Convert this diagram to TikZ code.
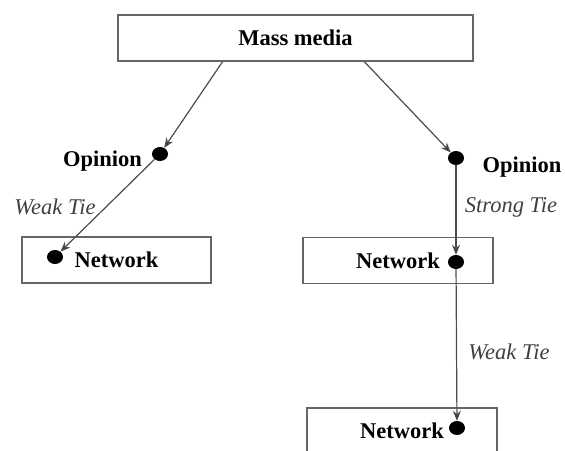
\documentclass[tikz,border=0pt]{standalone}
\usepackage{fontspec}
\setmainfont{Liberation Serif}
\usetikzlibrary{shapes.geometric,arrows.meta}
\begin{document}
\begin{tikzpicture}[x=1pt,y=-1pt,
  box/.style={draw=black!60,line width=1.4pt,rectangle,minimum height=46pt,inner sep=0pt,font=\fontsize{22.5}{26}\selectfont\bfseries},
  dot/.style={ellipse,fill=black,inner sep=0pt,minimum width=16pt,minimum height=14pt},
  lbl/.style={inner sep=0pt,font=\fontsize{22.5}{26}\selectfont\bfseries},
  tie/.style={inner sep=0pt,text=black!75,font=\fontsize{22.5}{26}\selectfont\itshape},
  conn/.style={draw=black!70,line width=1.2pt,-{Stealth[length=10pt,width=8pt,fill=black!85]},shorten >=0pt}]
\useasboundingbox[fill=white] (0,0) rectangle (565,450);
% boxes
\node[box,minimum width=355pt] (mm) at (295.5,38) {Mass media};
\node[box,minimum width=189pt] (lnet) at (116.5,260) {Network};
\node[box,minimum width=190pt] (rnet) at (398,260.5) {Network};
\node[box,minimum width=190pt] (bnet) at (402,431) {Network};
% dots
\node[dot] (lop) at (160,154) {};
\node[dot] (rop) at (456,158) {};
\node[dot] (lnd) at (55,257) {};
\node[dot] (rnd) at (456,262) {};
\node[dot] (bnd) at (457,428) {};
% labels
\node[lbl] (lopt) at (102.5,161) {Opinion};
\node[lbl] (ropt) at (522,167) {Opinion};
\node[tie] (lwt) at (55,207) {Weak Tie};
\node[tie] (rst) at (511,207) {Strong Tie};
\node[tie] (rwt) at (509,352) {Weak Tie};
% connectors
\draw[conn] (mm.198) -- (lop);
\draw[conn] (mm.-19) -- (rop);
\draw[conn] (lop) -- (lnd);
\draw[conn] (rop) -- (rnd);
\draw[conn] (rnd) -- (bnd);
\end{tikzpicture}
\end{document}
